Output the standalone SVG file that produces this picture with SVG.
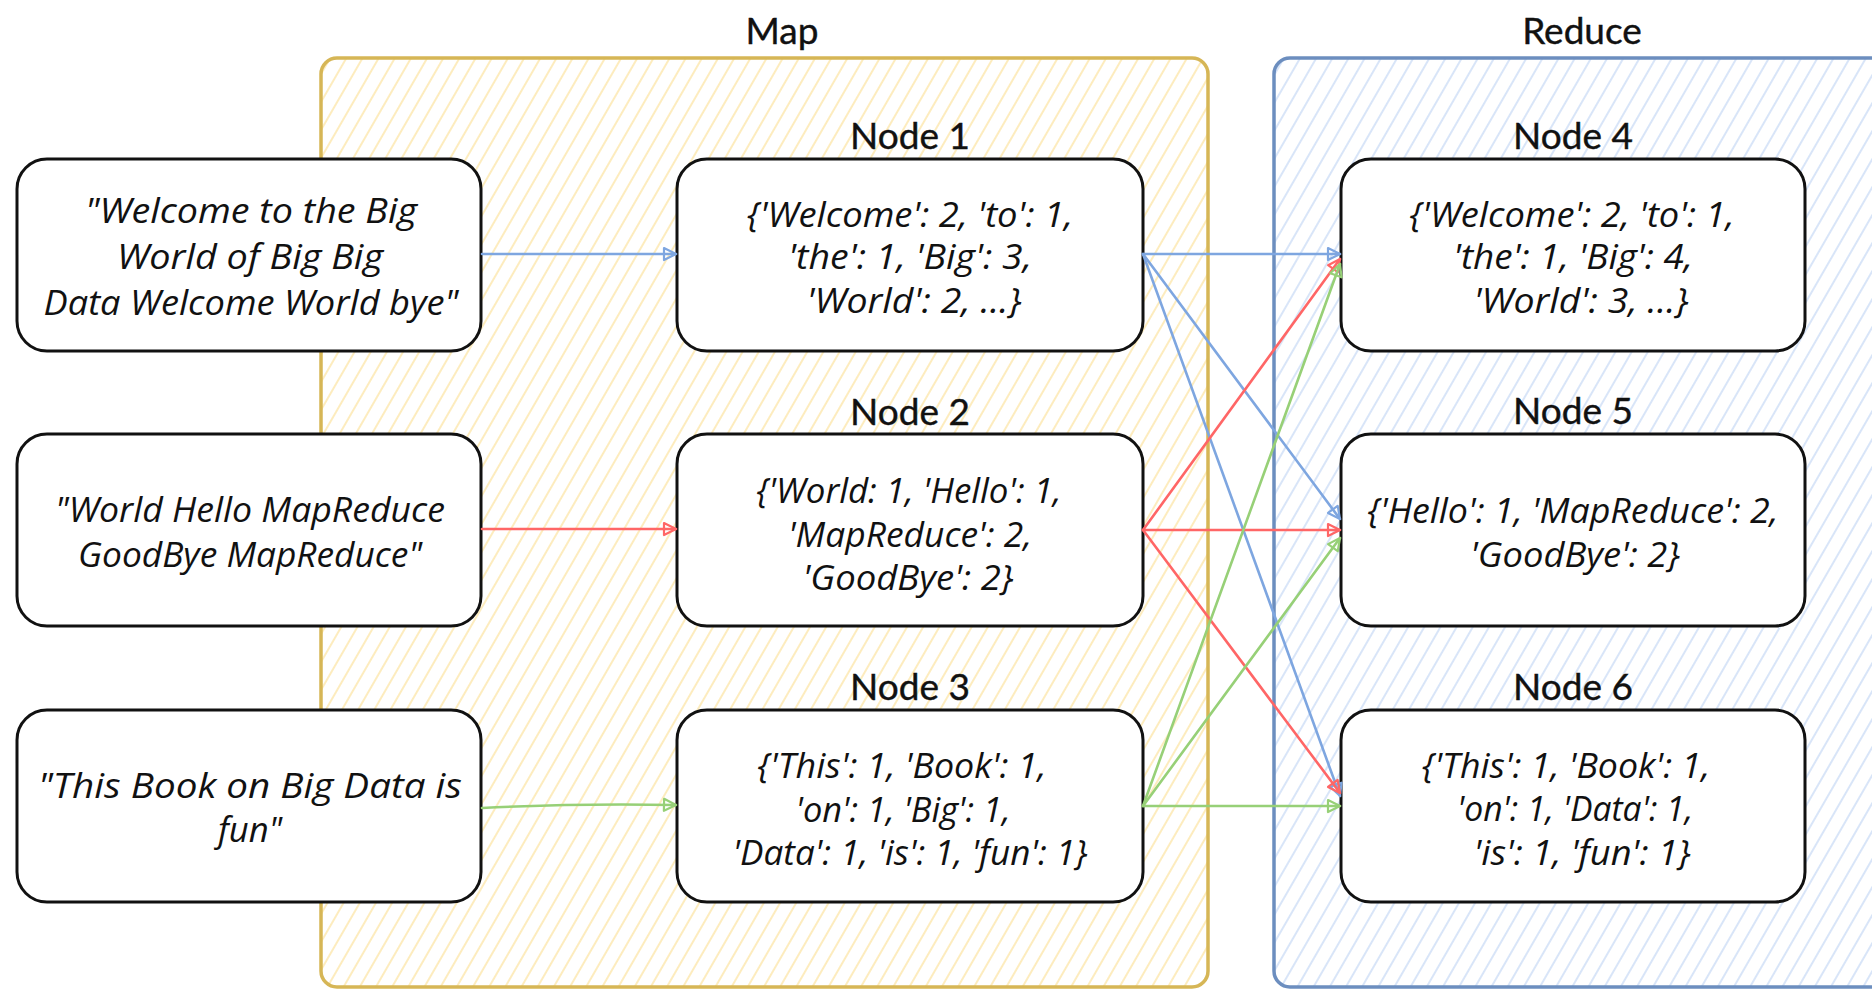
<svg xmlns="http://www.w3.org/2000/svg" width="1872" height="990" viewBox="0 0 1872 990">
<defs>
<pattern id="hatchY" patternUnits="userSpaceOnUse" width="14" height="14" patternTransform="rotate(30)"><line x1="7" y1="-1" x2="7" y2="15" stroke="#fde8ae" stroke-width="1.6"/></pattern>
<pattern id="hatchB" patternUnits="userSpaceOnUse" width="14" height="14" patternTransform="rotate(30)"><line x1="7" y1="-1" x2="7" y2="15" stroke="#cfdff6" stroke-width="1.6"/></pattern>
<marker id="arrB" markerUnits="userSpaceOnUse" markerWidth="18" markerHeight="18" refX="15" refY="9" orient="auto"><path d="M3,3 L15,9 L3,15 Z" fill="none" stroke="#7ea6e0" stroke-width="2.2" stroke-linejoin="round"/></marker>
<marker id="arrR" markerUnits="userSpaceOnUse" markerWidth="18" markerHeight="18" refX="15" refY="9" orient="auto"><path d="M3,3 L15,9 L3,15 Z" fill="none" stroke="#ff6666" stroke-width="2.2" stroke-linejoin="round"/></marker>
<marker id="arrG" markerUnits="userSpaceOnUse" markerWidth="18" markerHeight="18" refX="15" refY="9" orient="auto"><path d="M3,3 L15,9 L3,15 Z" fill="none" stroke="#97d077" stroke-width="2.2" stroke-linejoin="round"/></marker>
</defs>
<style>
.title{font-family:Lato,"Liberation Sans",sans-serif;font-size:37px;fill:#111;stroke:#111;stroke-width:0.4;text-anchor:middle}
.hand{font-family:"Open Sans","DejaVu Sans",sans-serif;font-style:italic;font-size:34px;fill:#111;text-anchor:middle}
.box{fill:#fff;stroke:#111;stroke-width:3}
.c{fill:none;stroke-width:2.6;stroke-linecap:round}
.cb{stroke:#7ea6e0;marker-end:url(#arrB)}
.cr{stroke:#ff6666;marker-end:url(#arrR)}
.cg{stroke:#97d077;marker-end:url(#arrG)}
</style>
<rect width="1872" height="990" fill="#fff"/>

<g id="map-container">
<rect x="321" y="58" width="887" height="929" rx="16" fill="url(#hatchY)" stroke="#d6b656" stroke-width="3.5"/>
<text class="title" x="782" y="44">Map</text>
</g>
<g id="reduce-container">
<rect x="1274" y="58" width="640" height="929" rx="16" fill="url(#hatchB)" stroke="#6c8ebf" stroke-width="3.5"/>
<text class="title" x="1582" y="44">Reduce</text>
</g>

<g id="input1">
<rect class="box" x="17" y="159" width="464" height="192" rx="30"/>
<text class="hand" x="251" y="223" textLength="332" lengthAdjust="spacingAndGlyphs">"Welcome to the Big</text>
<text class="hand" x="250" y="269" textLength="266" lengthAdjust="spacingAndGlyphs">World of Big Big</text>
<text class="hand" x="251" y="315" textLength="415" lengthAdjust="spacingAndGlyphs">Data Welcome World bye"</text>
</g>
<g id="input2">
<rect class="box" x="17" y="434" width="464" height="192" rx="30"/>
<text class="hand" x="250" y="522" textLength="390" lengthAdjust="spacingAndGlyphs">"World Hello MapReduce</text>
<text class="hand" x="250" y="567" textLength="344" lengthAdjust="spacingAndGlyphs">GoodBye MapReduce"</text>
</g>
<g id="input3">
<rect class="box" x="17" y="710" width="464" height="192" rx="30"/>
<text class="hand" x="250" y="798" textLength="424" lengthAdjust="spacingAndGlyphs">"This Book on Big Data is</text>
<text class="hand" x="250" y="842" textLength="64" lengthAdjust="spacingAndGlyphs">fun"</text>
</g>

<g id="node1">
<text class="title" x="910" y="149">Node 1</text>
<rect class="box" x="677" y="159" width="466" height="192" rx="30"/>
<text class="hand" x="910" y="227" textLength="326" lengthAdjust="spacingAndGlyphs">{'Welcome': 2, 'to': 1,</text>
<text class="hand" x="910" y="269" textLength="244" lengthAdjust="spacingAndGlyphs">'the': 1, 'Big': 3,</text>
<text class="hand" x="914" y="313" textLength="215" lengthAdjust="spacingAndGlyphs">'World': 2, ...}</text>
</g>
<g id="node2">
<text class="title" x="910" y="425">Node 2</text>
<rect class="box" x="677" y="434" width="466" height="192" rx="30"/>
<text class="hand" x="909" y="503" textLength="305" lengthAdjust="spacingAndGlyphs">{'World: 1, 'Hello': 1,</text>
<text class="hand" x="910" y="547" textLength="244" lengthAdjust="spacingAndGlyphs">'MapReduce': 2,</text>
<text class="hand" x="908" y="590" textLength="211" lengthAdjust="spacingAndGlyphs">'GoodBye': 2}</text>
</g>
<g id="node3">
<text class="title" x="910" y="700">Node 3</text>
<rect class="box" x="677" y="710" width="466" height="192" rx="30"/>
<text class="hand" x="902" y="778" textLength="289" lengthAdjust="spacingAndGlyphs">{'This': 1, 'Book': 1,</text>
<text class="hand" x="903" y="822" textLength="215" lengthAdjust="spacingAndGlyphs">'on': 1, 'Big': 1,</text>
<text class="hand" x="910" y="865" textLength="355" lengthAdjust="spacingAndGlyphs">'Data': 1, 'is': 1, 'fun': 1}</text>
</g>

<g id="node4">
<text class="title" x="1573" y="149">Node 4</text>
<rect class="box" x="1341" y="159" width="464" height="192" rx="30"/>
<text class="hand" x="1572" y="227" textLength="325" lengthAdjust="spacingAndGlyphs">{'Welcome': 2, 'to': 1,</text>
<text class="hand" x="1573" y="269" textLength="240" lengthAdjust="spacingAndGlyphs">'the': 1, 'Big': 4,</text>
<text class="hand" x="1581" y="313" textLength="215" lengthAdjust="spacingAndGlyphs">'World': 3, ...}</text>
</g>
<g id="node5">
<text class="title" x="1573" y="424">Node 5</text>
<rect class="box" x="1341" y="434" width="464" height="192" rx="30"/>
<text class="hand" x="1573" y="523" textLength="411" lengthAdjust="spacingAndGlyphs">{'Hello': 1, 'MapReduce': 2,</text>
<text class="hand" x="1575" y="567" textLength="210" lengthAdjust="spacingAndGlyphs">'GoodBye': 2}</text>
</g>
<g id="node6">
<text class="title" x="1573" y="700">Node 6</text>
<rect class="box" x="1341" y="710" width="464" height="192" rx="30"/>
<text class="hand" x="1566" y="778" textLength="288" lengthAdjust="spacingAndGlyphs">{'This': 1, 'Book': 1,</text>
<text class="hand" x="1575" y="821" textLength="236" lengthAdjust="spacingAndGlyphs">'on': 1, 'Data': 1,</text>
<text class="hand" x="1582" y="865" textLength="217" lengthAdjust="spacingAndGlyphs">'is': 1, 'fun': 1}</text>
</g>

<g id="connectors">
<path class="c cb" d="M482,254 L676,254"/>
<path class="c cb" d="M1143,254 L1340,254"/>
<path class="c cb" d="M1143,254 L1340,519"/>
<path class="c cb" d="M1143,254 L1340,796"/>
<path class="c cr" d="M482,529 L676,529"/>
<path class="c cr" d="M1143,530 L1340,259"/>
<path class="c cr" d="M1143,530 L1340,530"/>
<path class="c cr" d="M1143,530 L1340,793"/>
<path class="c cg" d="M482,808 Q580,803 676,805"/>
<path class="c cg" d="M1143,806 L1340,264"/>
<path class="c cg" d="M1143,806 L1340,538"/>
<path class="c cg" d="M1143,806 L1340,806"/>
</g>
</svg>
